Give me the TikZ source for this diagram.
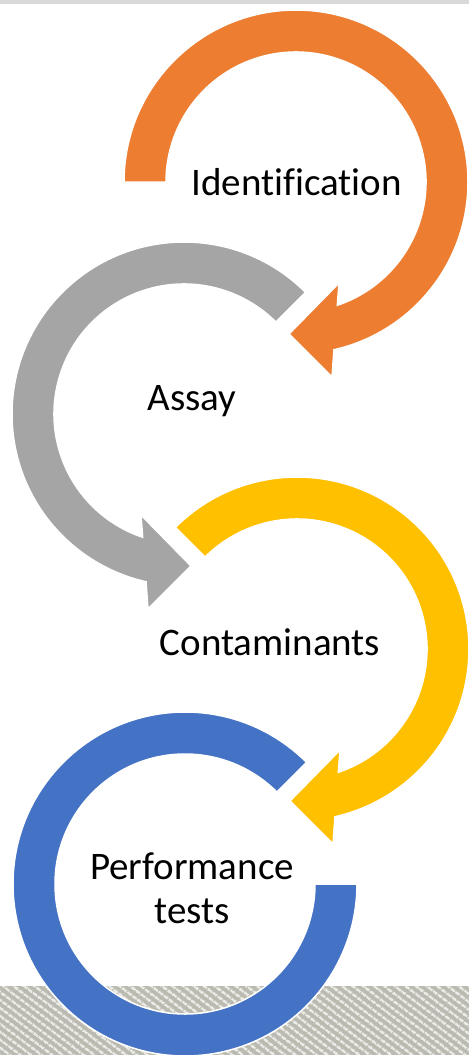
\documentclass[tikz,border=0pt]{standalone}
\usepackage{fontspec}
\setmainfont{Carlito}[Ligatures=NoCommon]
\usepackage{tikz}
\usetikzlibrary{positioning,patterns.meta}
\usepackage{xcolor}
\definecolor{ringorange}{RGB}{237,125,49}
\definecolor{ringgray}{RGB}{165,165,165}
\definecolor{ringyellow}{RGB}{255,192,0}
\definecolor{ringblue}{RGB}{68,114,196}
\definecolor{barline}{RGB}{217,217,217}
\definecolor{hatchbg}{RGB}{186,186,176}
\definecolor{hatchline}{RGB}{234,234,230}

\begin{document}
\begin{tikzpicture}[
  x=1pt,y=1pt,
  ring/.style={draw=white,line width=1.5pt,line join=miter},
  lbl/.style={font=\fontsize{39}{44}\selectfont,align=center,inner sep=0pt}
]
  \useasboundingbox (0,0) rectangle (469,-1055);

  %% ---- page decoration ----
  \fill[barline] (0,0) rectangle (469,-4);
  \fill[hatchbg] (0,-986) rectangle (469,-1055);
  \fill[pattern={Lines[angle=-37,distance=6.5pt,line width=2.8pt]},
        pattern color=hatchline] (0,-986) rectangle (469,-1055);

  %% ---- ring centres ----
  \coordinate (c1) at (296,-182);
  \coordinate (c2) at (184,-414);
  \coordinate (c3) at (297,-649);
  \coordinate (c4) at (185,-884);

  %% ---- Identification (orange, clockwise) ----
  \begin{scope}[shift={(c1)}]
    \fill[ring,fill=ringorange] (180:172) arc[start angle=180,end angle=-77.25,radius=172]
      -- (36,-195) -- (-7,-152) -- (43,-101)
      -- (-71.47:130) arc[start angle=-71.47,end angle=180,radius=130] -- cycle;
  \end{scope}

  %% ---- Assay (gray, anticlockwise) ----
  \begin{scope}[shift={(c2)}]
    \fill[ring,fill=ringgray] (45:172) arc[start angle=45,end angle=257.25,radius=172]
      -- (-36,-195) -- (7,-152) -- (-43,-101)
      -- (251.47:130) arc[start angle=251.47,end angle=45,radius=130] -- cycle;
  \end{scope}

  %% ---- Contaminants (yellow, clockwise) ----
  \begin{scope}[shift={(c3)}]
    \fill[ring,fill=ringyellow] (135:172) arc[start angle=135,end angle=-77.25,radius=172]
      -- (36,-195) -- (-7,-152) -- (43,-101)
      -- (-71.47:130) arc[start angle=-71.47,end angle=135,radius=130] -- cycle;
  \end{scope}

  %% ---- Performance tests (blue, open end) ----
  \begin{scope}[shift={(c4)}]
    \filldraw[ring,fill=ringblue] (45:172) arc[start angle=45,end angle=360,radius=172]
      -- (0:130) arc[start angle=360,end angle=45,radius=130] -- cycle;
  \end{scope}

  %% ---- labels ----
  \node[lbl,anchor=base] (ident)  at (296.5,-195) {Identification};
  \node[lbl,anchor=base] (assay)  at (192,-410)   {Assay};
  \node[lbl,anchor=base] (contam) at (270,-655)   {Contaminants};
  \node[lbl]             (perf)   at (192,-888)   {Performance\\tests};
\end{tikzpicture}
\end{document}
